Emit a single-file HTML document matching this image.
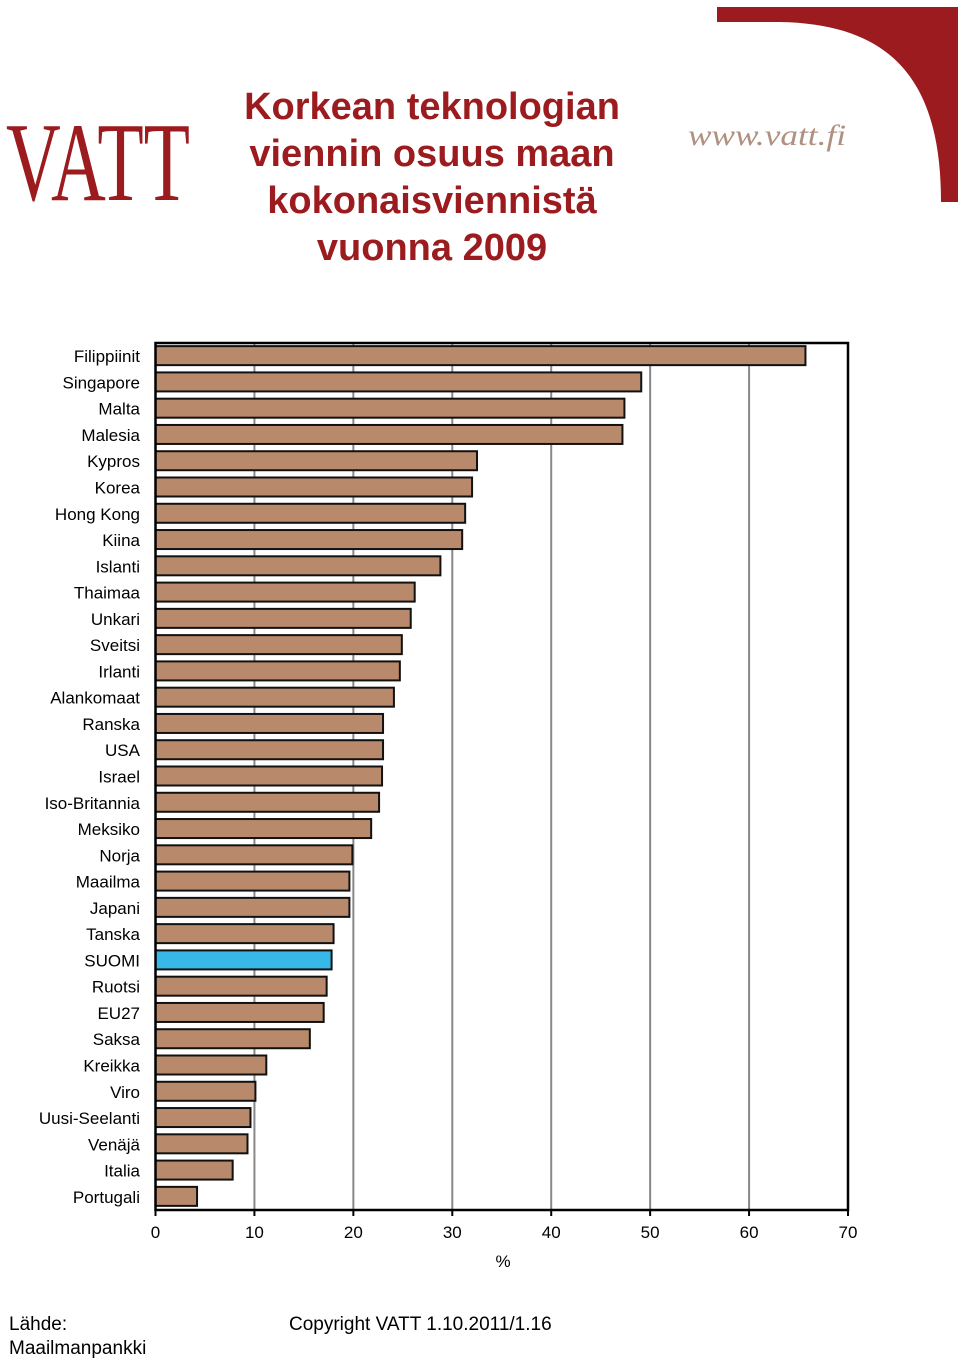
<!DOCTYPE html>
<html><head><meta charset="utf-8"><style>
body{margin:0;background:#fff;width:960px;height:1360px;overflow:hidden;font-family:"Liberation Sans",Arial,sans-serif;position:relative}
.t{position:absolute}
</style></head><body>
<svg width="960" height="1360" style="position:absolute;left:0;top:0">
<path d="M717,7 L958,7 L958,202 L941,202 C941,90 900,24 780,22 L717,22 Z" fill="#9b1b1e"/>
<g fill="#9b1b1e" font-family="Liberation Serif,serif">
<text x="6" y="200" font-size="112" textLength="184" lengthAdjust="spacingAndGlyphs">VATT</text>
</g>
<text x="688" y="145" font-family="Liberation Serif,serif" font-style="italic" font-size="30" fill="#b09080" textLength="158" lengthAdjust="spacingAndGlyphs">www.vatt.fi</text>
<g id="chart"></g>
</svg>
<div class="t" style="left:212px;top:84px;width:440px;text-align:center;color:#9b1b1e;font-weight:bold;font-size:38px;line-height:47px">Korkean teknologian viennin osuus maan kokonaisviennistä vuonna 2009</div>
<div class="t" style="left:9px;top:1313px;font-size:19px;line-height:24px">Lähde:<br>Maailmanpankki</div>
<div class="t" style="left:289px;top:1313px;font-size:19px;line-height:24px">Copyright VATT 1.10.2011/1.16</div>
<script>
const categories=["Filippiinit","Singapore","Malta","Malesia","Kypros","Korea","Hong Kong","Kiina","Islanti","Thaimaa","Unkari","Sveitsi","Irlanti","Alankomaat","Ranska","USA","Israel","Iso-Britannia","Meksiko","Norja","Maailma","Japani","Tanska","SUOMI","Ruotsi","EU27","Saksa","Kreikka","Viro","Uusi-Seelanti","Venäjä","Italia","Portugali"];
const values=[65.7,49.1,47.4,47.2,32.5,32.0,31.3,31.0,28.8,26.2,25.8,24.9,24.7,24.1,23.0,23.0,22.9,22.6,21.8,19.9,19.6,19.6,18.0,17.8,17.3,17.0,15.6,11.2,10.1,9.6,9.3,7.8,4.2];
const ticks=[0,10,20,30,40,50,60,70];
const NS="http://www.w3.org/2000/svg";
const chartG=document.getElementById('chart');
const PX0=155.5,PX1=848,PTOP=343,PBOT=1210;
const xs=v=>PX0+(PX1-PX0)*v/70;
const band=(PBOT-PTOP)/categories.length;
const ys=i=>PTOP+band*i;
function mk(t,a){const e=document.createElementNS(NS,t);for(const k in a)e.setAttribute(k,a[k]);chartG.appendChild(e);return e;}
ticks.forEach(t=>{if(t>0&&t<70){const l=mk('line',{x1:xs(t),x2:xs(t),y1:PTOP,y2:PBOT,stroke:'#888','stroke-width':2});

}
const tl=mk('text',{x:xs(t),y:PBOT+28,'text-anchor':'middle','font-size':17,'font-family':'Liberation Sans,sans-serif'});tl.textContent=t;


const tk=mk('line',{x1:xs(t),x2:xs(t),y1:PBOT,y2:PBOT+6,stroke:'#000','stroke-width':2});

});
categories.forEach((c,i)=>{const y=ys(i)+(band-20)/2;
const r=mk('rect',{x:PX0,y:y,width:xs(values[i])-PX0,height:19,fill:c==='SUOMI'?'#38b8e8':'#b8896a',stroke:'#111','stroke-width':2});


const t=mk('text',{x:140,y:ys(i)+band/2+6,'text-anchor':'end','font-size':17,'font-family':'Liberation Sans,sans-serif'});t.textContent=c;

});
const fr=mk('path',{d:`M${PX0},${PTOP} L${PX1},${PTOP} L${PX1},${PBOT} L${PX0},${PBOT} Z`,fill:'none',stroke:'#000','stroke-width':2.5});


const at=mk('text',{x:503,y:PBOT+57,'text-anchor':'middle','font-size':17,'font-family':'Liberation Sans,sans-serif'});at.textContent='%';


</script>
</body></html>
